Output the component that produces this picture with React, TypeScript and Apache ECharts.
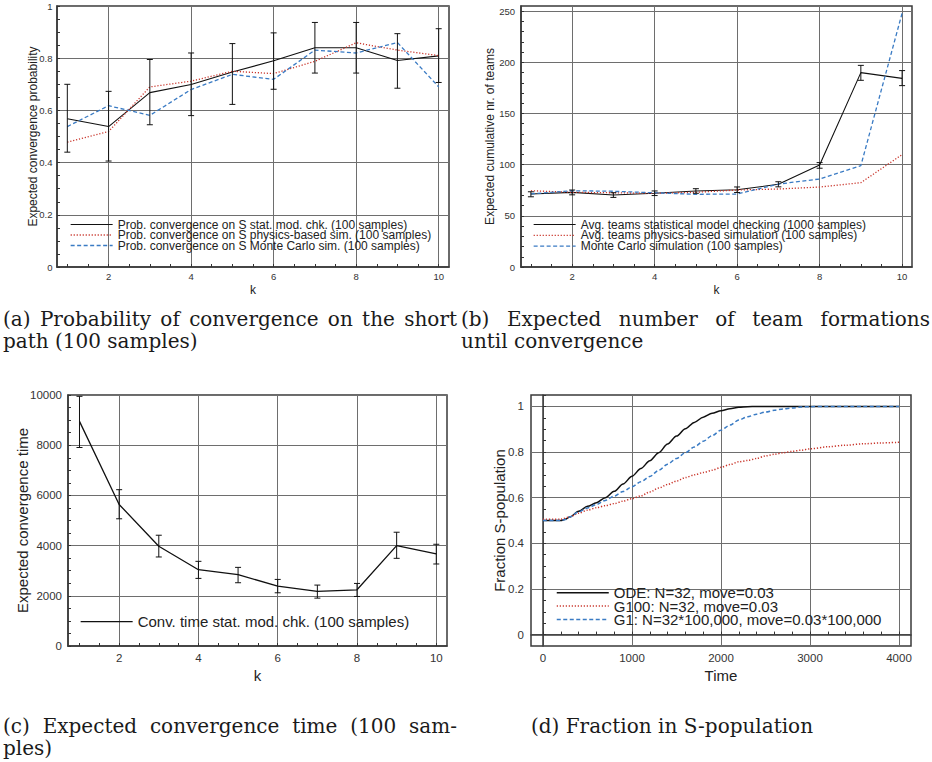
import React, { useEffect, useRef } from 'react';
import * as echarts from 'echarts';

// ---------- data ----------
const K = [1, 2, 3, 4, 5, 6, 7, 8, 9, 10];

// (a) probability of convergence on S
const probStat = [0.568, 0.538, 0.668, 0.699, 0.747, 0.79, 0.84, 0.84, 0.791, 0.809];
const probStatLow = [0.44, 0.406, 0.545, 0.58, 0.623, 0.681, 0.743, 0.743, 0.685, 0.707];
const probStatHigh = [0.7, 0.673, 0.795, 0.82, 0.856, 0.897, 0.937, 0.937, 0.894, 0.913];
const probPhys = [0.478, 0.519, 0.69, 0.712, 0.75, 0.741, 0.788, 0.859, 0.831, 0.81];
const probMC = [0.538, 0.618, 0.581, 0.68, 0.738, 0.719, 0.831, 0.82, 0.86, 0.69];

// (b) expected cumulative number of teams
const teamsStat = [71.3, 72.9, 70.3, 72, 74.2, 75.5, 80.8, 99.7, 189.9, 184.3];
const teamsStatLow = [68.6, 70.5, 68, 69.8, 72, 72.8, 78.3, 96.5, 182.4, 177.2];
const teamsStatHigh = [73.5, 75.2, 72.6, 74.3, 76.5, 78.2, 83.3, 102, 197, 191.9];
const teamsPhys = [74.5, 73, 72.5, 72, 73, 75.2, 76.2, 78.1, 82.4, 109.8];
const teamsMC = [71.5, 74.5, 74, 72.5, 71, 71.3, 81, 86, 99, 248];

// (c) expected convergence time
const convTime = [8950, 5640, 3973, 3040, 2840, 2387, 2173, 2240, 4000, 3667];
const convTimeLow = [7908, 5068, 3547, 2693, 2520, 2120, 1907, 1973, 3493, 3267];
const convTimeHigh = [9948, 6228, 4413, 3373, 3133, 2653, 2427, 2493, 4533, 4053];

// (d) fraction in S-population
const odeT = [0, 100, 200, 250, 300, 400, 500, 600, 700, 800, 900, 1000, 1100, 1200, 1300, 1400, 1500, 1600, 1700, 1800, 1900, 2000, 2100, 2200, 2300, 2400, 2600, 3000, 3500, 4000];
const odeV = [0.5, 0.5, 0.5, 0.505, 0.515, 0.54, 0.562, 0.578, 0.6, 0.628, 0.66, 0.694, 0.728, 0.762, 0.797, 0.835, 0.87, 0.902, 0.93, 0.953, 0.97, 0.981, 0.99, 0.996, 0.999, 1.0, 1.0, 1.0, 1.0, 1.0];
const g100T = [0, 200, 300, 400, 500, 600, 700, 800, 900, 1000, 1100, 1200, 1300, 1400, 1500, 1600, 1700, 1800, 1900, 2000, 2100, 2200, 2300, 2400, 2500, 2600, 2700, 2800, 2900, 3000, 3200, 3400, 3600, 3800, 4000];
const g100V = [0.505, 0.506, 0.515, 0.532, 0.545, 0.556, 0.565, 0.574, 0.585, 0.596, 0.608, 0.625, 0.642, 0.658, 0.673, 0.688, 0.7, 0.71, 0.72, 0.733, 0.745, 0.757, 0.763, 0.772, 0.783, 0.79, 0.797, 0.803, 0.808, 0.814, 0.823, 0.83, 0.836, 0.84, 0.843];
const g1T = [0, 200, 250, 300, 400, 500, 600, 700, 800, 900, 1000, 1100, 1200, 1300, 1400, 1500, 1600, 1700, 1800, 1900, 2000, 2100, 2200, 2300, 2400, 2500, 2600, 2700, 2800, 2900, 3000, 3200, 3600, 4000];
const g1V = [0.5, 0.5, 0.504, 0.515, 0.538, 0.555, 0.57, 0.588, 0.607, 0.627, 0.648, 0.67, 0.693, 0.72, 0.747, 0.772, 0.797, 0.822, 0.847, 0.872, 0.896, 0.918, 0.94, 0.955, 0.966, 0.975, 0.983, 0.989, 0.993, 0.997, 0.999, 1.0, 1.0, 1.0];

// tick labels
const kLabels = [2, 4, 6, 8, 10];
const probLabels = [0, 0.2, 0.4, 0.6, 0.8, 1];
const teamsLabels = [0, 50, 100, 150, 200, 250];
const convLabels = [0, 2000, 4000, 6000, 8000, 10000];
const fracLabels = [0, 0.2, 0.4, 0.6, 0.8, 1];
const timeLabels = [0, 1000, 2000, 3000, 4000];

// series / legend names
const namesA = [
  'Prob. convergence on S stat. mod. chk. (100 samples)',
  'Prob. convergence on S physics-based sim. (100 samples)',
  'Prob. convergence on S Monte Carlo sim. (100 samples)',
];
const namesB = [
  'Avg. teams statistical model checking (1000 samples)',
  'Avg. teams physics-based simulation (100 samples)',
  'Monte Carlo simulation (100 samples)',
];
const namesC = ['Conv. time stat. mod. chk. (100 samples)'];
const namesD = [
  'ODE: N=32, move=0.03',
  'G100: N=32, move=0.03',
  'G1: N=32*100,000, move=0.03*100,000',
];

const captionA = ['(a) Probability of convergence on the short', 'path (100 samples)'];
const captionB = ['(b) Expected number of team formations', 'until convergence'];
const captionC = ['(c) Expected convergence time (100 sam-', 'ples)'];
const captionD = ['(d) Fraction in S-population'];

// ---------- helpers ----------
const SANS = '"Liberation Sans", Arial, Helvetica, sans-serif';
const SERIF = '"DejaVu Serif", serif';
const BLACK = '#111111';
const RED = '#c9352b';
const BLUE = '#3a7bc4';
const FRAME = '#3a3a3a';
const GRIDC = '#6e6e6e';

function steps(a: number, b: number, s: number): number[] {
  const out: number[] = [];
  const n = Math.round((b - a) / s);
  for (let i = 0; i <= n; i++) out.push(+(a + i * s).toFixed(6));
  return out;
}
const kMinor = steps(1, 10, 0.5);
const probMinor = steps(0, 1, 0.05);
const teamsMinor = steps(0, 250, 10);
const convMinor = steps(0, 10000, 500);
const fracMinor = steps(0, 1.05, 0.05);
const timeMinor = steps(0, 4000, 200);

const fmt = (v: number) => String(v);

function mainX(gi: number, min: number, max: number, labels: number[], fs: number, margin: number, name: string, nfs: number, gap: number) {
  return {
    type: 'value', gridIndex: gi, min, max, position: 'bottom',
    axisLine: { show: true, lineStyle: { color: FRAME, width: 1.5 } },
    axisTick: { show: false, customValues: labels },
    axisLabel: { customValues: labels, fontSize: fs, margin, color: '#333', fontFamily: SANS, formatter: fmt },
    splitLine: { show: true, lineStyle: { color: GRIDC, width: 1 } },
    name, nameLocation: 'middle', nameGap: gap, nameMoveOverlap: false,
    nameTextStyle: { fontSize: nfs, color: '#222', fontFamily: SANS },
  };
}
function tickX(gi: number, min: number, max: number, ticks: number[]) {
  return {
    type: 'value', gridIndex: gi, min, max, position: 'bottom',
    axisLine: { show: false },
    axisTick: { show: true, inside: true, length: 3, customValues: ticks, lineStyle: { color: '#333', width: 1 } },
    axisLabel: { show: false }, splitLine: { show: false },
  };
}
function mainY(gi: number, min: number, max: number, labels: number[], fs: number, margin: number, name: string, nfs: number, gap: number) {
  return {
    type: 'value', gridIndex: gi, min, max, position: 'left',
    axisLine: { show: true, lineStyle: { color: FRAME, width: 1.5 } },
    axisTick: { show: false, customValues: labels },
    axisLabel: { customValues: labels, fontSize: fs, margin, color: '#333', fontFamily: SANS, formatter: fmt },
    splitLine: { show: true, lineStyle: { color: GRIDC, width: 1 } },
    name, nameLocation: 'middle', nameRotate: 90, nameGap: gap, nameMoveOverlap: false,
    nameTextStyle: { fontSize: nfs, color: '#222', fontFamily: SANS },
  };
}
function tickY(gi: number, min: number, max: number, ticks: number[]) {
  return {
    type: 'value', gridIndex: gi, min, max, position: 'left',
    axisLine: { show: false },
    axisTick: { show: true, inside: true, length: 3, customValues: ticks, lineStyle: { color: '#333', width: 1 } },
    axisLabel: { show: false }, splitLine: { show: false },
  };
}

const errRender = (cap: number) => (params: any, api: any) => {
  const x = api.value(0);
  const lo = api.coord([x, api.value(1)]);
  const hi = api.coord([x, api.value(2)]);
  const st = { stroke: BLACK, lineWidth: 1 };
  return {
    type: 'group',
    children: [
      { type: 'line', shape: { x1: lo[0], y1: lo[1], x2: hi[0], y2: hi[1] }, style: st },
      { type: 'line', shape: { x1: lo[0] - cap, y1: lo[1], x2: lo[0] + cap, y2: lo[1] }, style: st },
      { type: 'line', shape: { x1: hi[0] - cap, y1: hi[1], x2: hi[0] + cap, y2: hi[1] }, style: st },
    ],
  };
};

function lineSeries(name: string, g: number, data: number[][], color: string, width: number, type: any, smooth = false) {
  return {
    type: 'line', name, xAxisIndex: 2 * g, yAxisIndex: 2 * g, data,
    symbol: 'none', showSymbol: false, smooth: smooth ? 0.3 : false, smoothMonotone: smooth ? 'x' : undefined,
    lineStyle: { color, width, type }, itemStyle: { color }, z: 3, silent: true,
  };
}
function errSeries(g: number, lo: number[], hi: number[]) {
  return {
    type: 'custom', xAxisIndex: 2 * g, yAxisIndex: 2 * g,
    data: K.map((k, i) => [k, lo[i], hi[i]]),
    encode: { x: 0, y: [1, 2] }, renderItem: errRender(3), z: 4, silent: true,
  };
}

const CAP_FS = 20;
function captionLine(text: string, x0: number, x1: number | null, y: number, align = 'left') {
  if (x1 == null) {
    return [{ type: 'text', x: x0, y, style: { text, fontSize: CAP_FS, fontFamily: SERIF, fill: '#1a1a1a', verticalAlign: 'middle', align } }];
  }
  const ctx = document.createElement('canvas').getContext('2d') as CanvasRenderingContext2D;
  ctx.font = `${CAP_FS}px ${SERIF}`;
  const words = text.split(' ');
  const widths = words.map((w) => ctx.measureText(w).width);
  const total = widths.reduce((a, b) => a + b, 0);
  const gap = Math.max(CAP_FS * 0.25, (x1 - x0 - total) / (words.length - 1));
  let x = x0;
  return words.map((w, i) => {
    const el = { type: 'text', x, y, style: { text: w, fontSize: CAP_FS, fontFamily: SERIF, fill: '#1a1a1a', verticalAlign: 'middle' } };
    x += widths[i] + gap;
    return el;
  });
}

function legendDef(names: string[], left: number, top: number, iw: number, fs: number, spacing: number) {
  return {
    data: names, left, top, orient: 'vertical', itemWidth: iw, itemHeight: fs, itemGap: spacing - fs, padding: 0,
    selectedMode: false, itemStyle: { opacity: 0 }, lineStyle: { width: 'inherit' },
    textStyle: { fontSize: fs, lineHeight: fs, color: '#222', fontFamily: SANS },
  };
}

export default function App() {
  const ref = useRef<HTMLDivElement>(null);
  useEffect(() => {
    if (!ref.current) return;
    const chart = echarts.init(ref.current, undefined, { renderer: 'svg' });
    const gridBase = { show: true, borderColor: FRAME, borderWidth: 1.5, backgroundColor: 'transparent', containLabel: false, outerBoundsMode: 'none' };
    const dotted = [1.2, 1.8];
    const dashed = [4, 2.5];
    const option: any = {
      animation: false,
      backgroundColor: '#ffffff',
      grid: [
        { ...gridBase, left: 57, top: 6, width: 392, height: 261 },
        { ...gridBase, left: 521, top: 6, width: 391, height: 261 },
        { ...gridBase, left: 68, top: 395, width: 379, height: 251 },
        { ...gridBase, left: 531, top: 395, width: 380, height: 251 },
      ],
      xAxis: [
        mainX(0, 0.75, 10.25, kLabels, 9.5, 4.5, 'k', 12, 17),
        tickX(0, 0.75, 10.25, kMinor),
        mainX(1, 0.76, 10.24, kLabels, 9.5, 4.5, 'k', 12, 17),
        tickX(1, 0.76, 10.24, kMinor),
        mainX(2, 0.71, 10.27, kLabels, 11.5, 6, 'k', 15, 21.5),
        tickX(2, 0.71, 10.27, kMinor),
        mainX(3, -135, 4135, timeLabels, 11.5, 5.5, 'Time', 15, 21.5),
        tickX(3, -135, 4135, timeMinor),
      ],
      yAxis: [
        mainY(0, 0, 1, probLabels, 9.5, 4.5, 'Expected convergence probability', 12, 18.5),
        tickY(0, 0, 1, probMinor),
        mainY(1, 0, 255, teamsLabels, 9.5, 6, 'Expected cumulative nr. of teams', 12, 25),
        tickY(1, 0, 255, teamsMinor),
        mainY(2, 0, 10000, convLabels, 11.5, 6, 'Expected convergence time', 15, 38.5),
        tickY(2, 0, 10000, convMinor),
        mainY(3, -0.05, 1.05, fracLabels, 11.5, 7, 'Fraction S-population', 15, 24.5),
        tickY(3, -0.05, 1.05, fracMinor),
      ],
      legend: [
        legendDef(namesA, 70, 218.5, 42, 12, 10.5),
        legendDef(namesB, 533, 218.5, 42, 12, 10.8),
        legendDef(namesC, 80, 614.2, 52, 15, 15),
        legendDef(namesD, 556, 585.2, 52, 15, 13.4),
      ],
      series: [
        lineSeries(namesA[0], 0, K.map((k, i) => [k, probStat[i]]), BLACK, 1.1, 'solid'),
        lineSeries(namesA[1], 0, K.map((k, i) => [k, probPhys[i]]), RED, 1.3, dotted),
        lineSeries(namesA[2], 0, K.map((k, i) => [k, probMC[i]]), BLUE, 1.3, dashed),
        errSeries(0, probStatLow, probStatHigh),

        lineSeries(namesB[0], 1, K.map((k, i) => [k, teamsStat[i]]), BLACK, 1.1, 'solid'),
        lineSeries(namesB[1], 1, K.map((k, i) => [k, teamsPhys[i]]), RED, 1.3, dotted),
        lineSeries(namesB[2], 1, K.map((k, i) => [k, teamsMC[i]]), BLUE, 1.3, dashed),
        errSeries(1, teamsStatLow, teamsStatHigh),

        lineSeries(namesC[0], 2, K.map((k, i) => [k, convTime[i]]), BLACK, 1.3, 'solid'),
        errSeries(2, convTimeLow, convTimeHigh),

        lineSeries(namesD[0], 3, odeT.map((t, i) => [t, odeV[i]]), BLACK, 1.5, 'solid', true),
        lineSeries(namesD[1], 3, g100T.map((t, i) => [t, g100V[i]]), RED, 1.5, dotted, true),
        lineSeries(namesD[2], 3, g1T.map((t, i) => [t, g1V[i]]), BLUE, 1.5, dashed, true),
      ],
      graphic: [
        ...captionLine(captionA[0], 3, 457, 319),
        ...captionLine(captionA[1], 3, null, 341),
        ...captionLine(captionB[0], 461, 930, 319),
        ...captionLine(captionB[1], 461, null, 341),
        ...captionLine(captionC[0], 3, 457, 726),
        ...captionLine(captionC[1], 3, null, 748),
        ...captionLine(captionD[0], 672, null, 726, 'center'),
      ],
    };
    chart.setOption(option);
    return () => chart.dispose();
  }, []);
  return <div ref={ref} style={{ position: 'absolute', left: 0, top: 0, width: 932, height: 762 }} />;
}
